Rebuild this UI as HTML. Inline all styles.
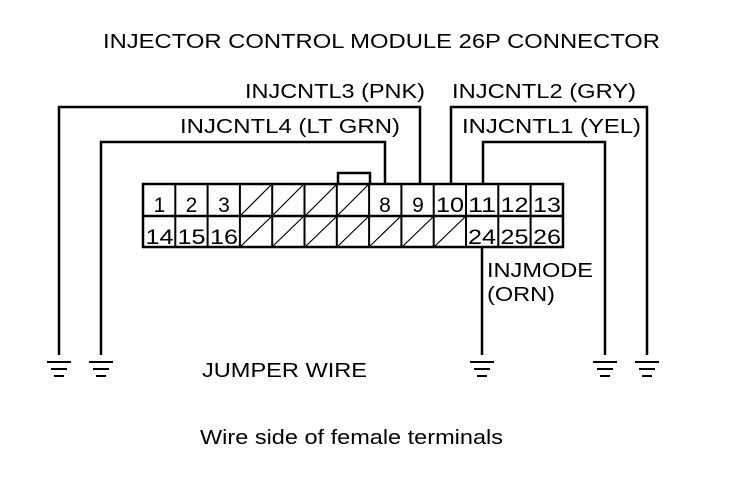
<!DOCTYPE html>
<html><head><style>html,body{margin:0;padding:0;background:#fff;}svg{display:block}</style></head>
<body>
<svg width="736" height="480" viewBox="0 0 736 480" xmlns="http://www.w3.org/2000/svg" font-family="Liberation Sans, Arial, sans-serif" font-size="20" fill="#000">
<rect width="736" height="480" fill="#fff"/>
<text x="103" y="48" textLength="557" lengthAdjust="spacingAndGlyphs">INJECTOR CONTROL MODULE 26P CONNECTOR</text>
<text x="245" y="98" textLength="180" lengthAdjust="spacingAndGlyphs">INJCNTL3 (PNK)</text>
<text x="452" y="98" textLength="184" lengthAdjust="spacingAndGlyphs">INJCNTL2 (GRY)</text>
<text x="180" y="133" textLength="220" lengthAdjust="spacingAndGlyphs">INJCNTL4 (LT GRN)</text>
<text x="462" y="133" textLength="179" lengthAdjust="spacingAndGlyphs">INJCNTL1 (YEL)</text>
<text x="487" y="277" textLength="106" lengthAdjust="spacingAndGlyphs">INJMODE</text>
<text x="487" y="301" textLength="68" lengthAdjust="spacingAndGlyphs">(ORN)</text>
<text x="202" y="377" textLength="165" lengthAdjust="spacingAndGlyphs">JUMPER WIRE</text>
<text x="200" y="444" textLength="303" lengthAdjust="spacingAndGlyphs">Wire side of female terminals</text>
<g stroke="#000" stroke-width="2.5" fill="none">
<polyline points="59,355 59,107 420,107 420,184"/>
<polyline points="101,355 101,142 385,142 385,184"/>
<polyline points="647,355 647,107 451,107 451,184"/>
<polyline points="605,355 605,142 483,142 483,184"/>
<line x1="482" y1="247" x2="482" y2="355"/>
<polyline points="338,184 338,173 370,173 370,184"/>
<rect x="143" y="184" width="420" height="63"/>
<line x1="143" y1="216" x2="563" y2="216"/>
</g>
<g stroke="#000" stroke-width="2">
<line x1="175.3" y1="184" x2="175.3" y2="247"/>
<line x1="207.6" y1="184" x2="207.6" y2="247"/>
<line x1="239.9" y1="184" x2="239.9" y2="247"/>
<line x1="272.2" y1="184" x2="272.2" y2="247"/>
<line x1="304.5" y1="184" x2="304.5" y2="247"/>
<line x1="336.8" y1="184" x2="336.8" y2="247"/>
<line x1="369.1" y1="184" x2="369.1" y2="247"/>
<line x1="401.4" y1="184" x2="401.4" y2="247"/>
<line x1="433.7" y1="184" x2="433.7" y2="247"/>
<line x1="466" y1="184" x2="466" y2="247"/>
<line x1="498.3" y1="184" x2="498.3" y2="247"/>
<line x1="530.6" y1="184" x2="530.6" y2="247"/>
</g>
<g stroke="#000" stroke-width="1.2">
<line x1="241" y1="215" x2="271" y2="185"/><line x1="273" y1="215" x2="303" y2="185"/><line x1="306" y1="215" x2="336" y2="185"/><line x1="338" y1="215" x2="368" y2="185"/>
<line x1="241" y1="246" x2="271" y2="217"/><line x1="273" y1="246" x2="303" y2="217"/><line x1="306" y1="246" x2="336" y2="217"/><line x1="338" y1="246" x2="368" y2="217"/><line x1="370" y1="246" x2="400" y2="217"/><line x1="403" y1="246" x2="433" y2="217"/><line x1="435" y1="246" x2="465" y2="217"/>
</g>
<g font-size="21" text-anchor="middle">
<text x="159.5" y="212">1</text><text x="191.5" y="212">2</text><text x="224" y="212">3</text>
<text x="385" y="212">8</text><text x="418" y="212">9</text><text x="450" y="212" textLength="28" lengthAdjust="spacingAndGlyphs">10</text><text x="482" y="212" textLength="28" lengthAdjust="spacingAndGlyphs">11</text><text x="514.5" y="212" textLength="28" lengthAdjust="spacingAndGlyphs">12</text><text x="547" y="212" textLength="28" lengthAdjust="spacingAndGlyphs">13</text>
<text x="159.5" y="244" textLength="28" lengthAdjust="spacingAndGlyphs">14</text><text x="191.5" y="244" textLength="28" lengthAdjust="spacingAndGlyphs">15</text><text x="224" y="244" textLength="28" lengthAdjust="spacingAndGlyphs">16</text>
<text x="482" y="244" textLength="28" lengthAdjust="spacingAndGlyphs">24</text><text x="514.5" y="244" textLength="28" lengthAdjust="spacingAndGlyphs">25</text><text x="547" y="244" textLength="28" lengthAdjust="spacingAndGlyphs">26</text>
</g>
<g stroke="#000" stroke-width="2">
<g transform="translate(59,0)"><line x1="-12" y1="362" x2="12" y2="362"/><line x1="-8" y1="369" x2="8" y2="369"/><line x1="-5" y1="376" x2="5" y2="376"/></g>
<g transform="translate(101,0)"><line x1="-12" y1="362" x2="12" y2="362"/><line x1="-8" y1="369" x2="8" y2="369"/><line x1="-5" y1="376" x2="5" y2="376"/></g>
<g transform="translate(482,0)"><line x1="-12" y1="362" x2="12" y2="362"/><line x1="-8" y1="369" x2="8" y2="369"/><line x1="-5" y1="376" x2="5" y2="376"/></g>
<g transform="translate(605,0)"><line x1="-12" y1="362" x2="12" y2="362"/><line x1="-8" y1="369" x2="8" y2="369"/><line x1="-5" y1="376" x2="5" y2="376"/></g>
<g transform="translate(647,0)"><line x1="-12" y1="362" x2="12" y2="362"/><line x1="-8" y1="369" x2="8" y2="369"/><line x1="-5" y1="376" x2="5" y2="376"/></g>
</g>
</svg>
</body></html>
